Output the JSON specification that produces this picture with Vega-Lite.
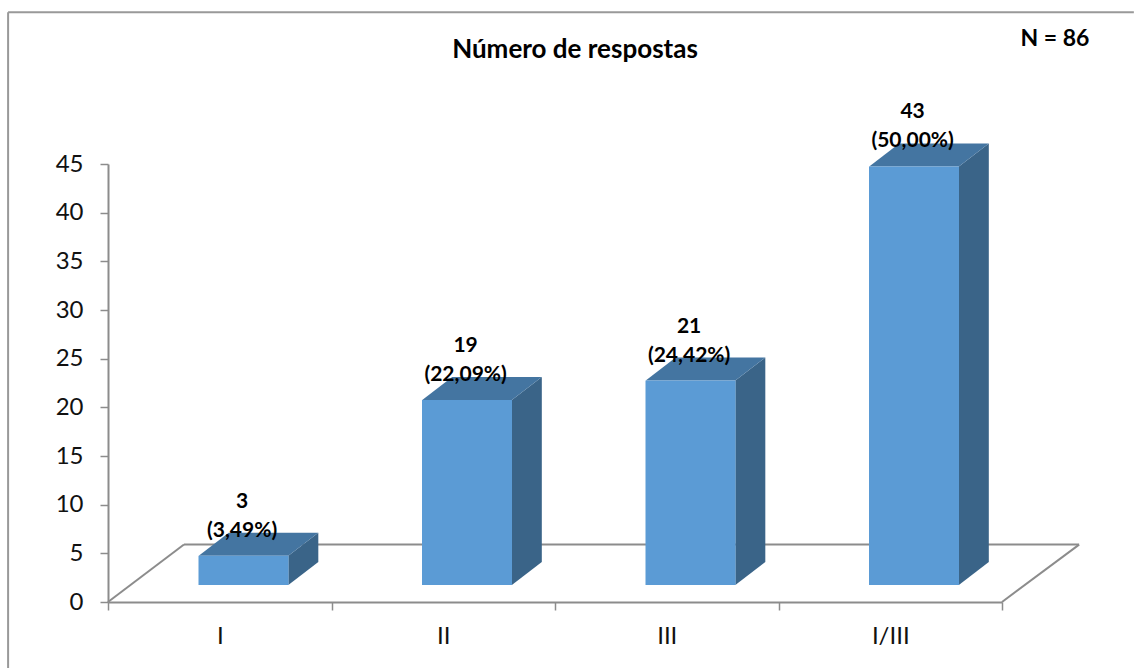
{
"$schema":"https://vega.github.io/schema/vega-lite/v6.json",
"width":894,"height":438,
"autosize":"none",
"padding":{"left":108,"top":164,"right":132,"bottom":66},
"background":"white",
"config":{"view":{"stroke":null},"font":"Lato"},
"title":{"text":"Número de respostas","anchor":"middle","dx":20,"offset":-52,"fontSize":26,"fontWeight":"bold","color":"#000000","font":"Lato"},
"data":{"values":[
{"cat":"I","value":3,"pct":"(3,49%)"},
{"cat":"II","value":19,"pct":"(22,09%)"},
{"cat":"III","value":21,"pct":"(24,42%)"},
{"cat":"I/III","value":43,"pct":"(50,00%)"}]},
"transform":[{"calculate":"indexof(['I','II','III','I/III'],datum.cat)","as":"idx"}],
"resolve":{"scale":{"x":"independent"},"axis":{"x":"independent","y":"independent"}},
"layer":[
{"data":{"values":[{}]},"mark":{"type":"rule","color":"#999999","strokeWidth":2},
 "encoding":{"x":{"datum":-0.447,"type":"quantitative","scale":{"domain":[0,4],"nice":false},"axis":null},"x2":{"datum":-0.447},
 "y":{"datum":60.6,"type":"quantitative","scale":{"domain":[0,45],"nice":false},"axis":null},"y2":{"datum":-6.8}}},
{"data":{"values":[{}]},"mark":{"type":"rule","color":"#999999","strokeWidth":2},
 "encoding":{"x":{"datum":-0.447,"type":"quantitative","scale":{"domain":[0,4],"nice":false},"axis":null},"x2":{"datum":4.59},
 "y":{"datum":60.6,"type":"quantitative","scale":{"domain":[0,45],"nice":false},"axis":null},"y2":{"datum":60.6}}},
{"data":{"values":[{}]},"mark":{"type":"rule","color":"#8C8C8C","strokeWidth":2},
 "encoding":{"x":{"datum":0,"type":"quantitative","scale":{"domain":[0,4],"nice":false},"axis":null},"x2":{"datum":0.34},
 "y":{"datum":0,"type":"quantitative","scale":{"domain":[0,45],"nice":false},"axis":null},"y2":{"datum":5.9}}},
{"data":{"values":[{}]},"mark":{"type":"rule","color":"#8C8C8C","strokeWidth":2},
 "encoding":{"x":{"datum":0.34,"type":"quantitative","scale":{"domain":[0,4],"nice":false},"axis":null},"x2":{"datum":4.345},
 "y":{"datum":5.9,"type":"quantitative","scale":{"domain":[0,45],"nice":false},"axis":null},"y2":{"datum":5.9}}},
{"data":{"values":[{}]},"mark":{"type":"rule","color":"#8C8C8C","strokeWidth":2},
 "encoding":{"x":{"datum":4,"type":"quantitative","scale":{"domain":[0,4],"nice":false},"axis":null},"x2":{"datum":4.345},
 "y":{"datum":0,"type":"quantitative","scale":{"domain":[0,45],"nice":false},"axis":null},"y2":{"datum":5.9}}},
{"mark":{"type":"area","color":"#3A6488","orient":"vertical","interpolate":"linear"},
 "transform":[{"calculate":"datum.idx+0.807","as":"x0"},{"calculate":"datum.idx+0.941","as":"x1"},
  {"fold":["x0","x1"],"as":["vk","vx"]},
  {"calculate":"1.75+(datum.vk==='x1'?2.36:0)","as":"lo"},
  {"calculate":"datum.value+1.75+(datum.vk==='x1'?2.36:0)","as":"hi"}],
 "encoding":{"detail":{"field":"cat"},
  "x":{"field":"vx","type":"quantitative","scale":{"domain":[0,4],"nice":false,"zero":false},"axis":null},
  "y":{"field":"hi","type":"quantitative","scale":{"domain":[0,45],"nice":false},"axis":null},
  "y2":{"field":"lo"}}},
{"mark":{"type":"area","color":"#4475A1","orient":"vertical","interpolate":"linear"},
 "transform":[{"calculate":"datum.idx+0.406","as":"x0"},{"calculate":"datum.idx+0.54","as":"x1"},{"calculate":"datum.idx+0.807","as":"x2"},{"calculate":"datum.idx+0.941","as":"x3"},
  {"fold":["x0","x1","x2","x3"],"as":["vk","vx"]},
  {"calculate":"datum.value+1.75+(datum.vk==='x3'?2.36:0)","as":"lo"},
  {"calculate":"datum.value+1.75+(datum.vk==='x0'?0:2.36)","as":"hi"}],
 "encoding":{"detail":{"field":"cat"},
  "x":{"field":"vx","type":"quantitative","scale":{"domain":[0,4],"nice":false,"zero":false},"axis":null},
  "y":{"field":"hi","type":"quantitative","scale":{"domain":[0,45],"nice":false},"axis":null},
  "y2":{"field":"lo"}}},
{"mark":{"type":"bar","color":"#5B9BD5","width":90,"xOffset":23.75,"yOffset":-17,"y2Offset":-17},
 "encoding":{
  "x":{"field":"cat","type":"nominal","sort":["I","II","III","I/III"],"scale":{"paddingInner":0,"paddingOuter":0},
   "axis":{"title":null,"labelAngle":0,"tickBand":"extent","labelFontSize":24,"labelFont":"Lato","labelColor":"#111111","labelPadding":14,"tickSize":8,"tickColor":"#8C8C8C","tickWidth":1.5,"domainColor":"#8C8C8C","domainWidth":2}},
  "y":{"field":"value","type":"quantitative","scale":{"domain":[0,45],"nice":false},
   "axis":{"title":null,"values":[0,5,10,15,20,25,30,35,40,45],"grid":false,"labelFontSize":24,"labelFont":"Lato","labelColor":"#111111","labelPadding":17,"tickSize":8,"tickColor":"#8C8C8C","tickWidth":1.5,"domainColor":"#8C8C8C","domainWidth":2}},
  "y2":{"datum":0}}},
{"mark":{"type":"text","fontSize":21,"fontWeight":"bold","color":"#000000","yOffset":-71,"font":"Lato"},
 "transform":[{"calculate":"datum.idx+0.6","as":"cx"}],
 "encoding":{"x":{"field":"cx","type":"quantitative","scale":{"domain":[0,4],"nice":false,"zero":false},"axis":null},
 "y":{"field":"value","type":"quantitative","scale":{"domain":[0,45],"nice":false},"axis":null},
 "text":{"field":"value","type":"quantitative"}}},
{"mark":{"type":"text","fontSize":21,"fontWeight":"bold","color":"#000000","yOffset":-42,"font":"Lato"},
 "transform":[{"calculate":"datum.idx+0.6","as":"cx"}],
 "encoding":{"x":{"field":"cx","type":"quantitative","scale":{"domain":[0,4],"nice":false,"zero":false},"axis":null},
 "y":{"field":"value","type":"quantitative","scale":{"domain":[0,45],"nice":false},"axis":null},
 "text":{"field":"pct"}}},
{"data":{"values":[{"note":"N = 86"}]},"mark":{"type":"text","fontSize":23,"fontWeight":"bold","color":"#000000","font":"Lato"},
 "encoding":{"x":{"datum":4.237,"type":"quantitative","scale":{"domain":[0,4],"nice":false},"axis":null},
 "y":{"datum":57.85,"type":"quantitative","scale":{"domain":[0,45],"nice":false},"axis":null},
 "text":{"field":"note"}}}
]
}
